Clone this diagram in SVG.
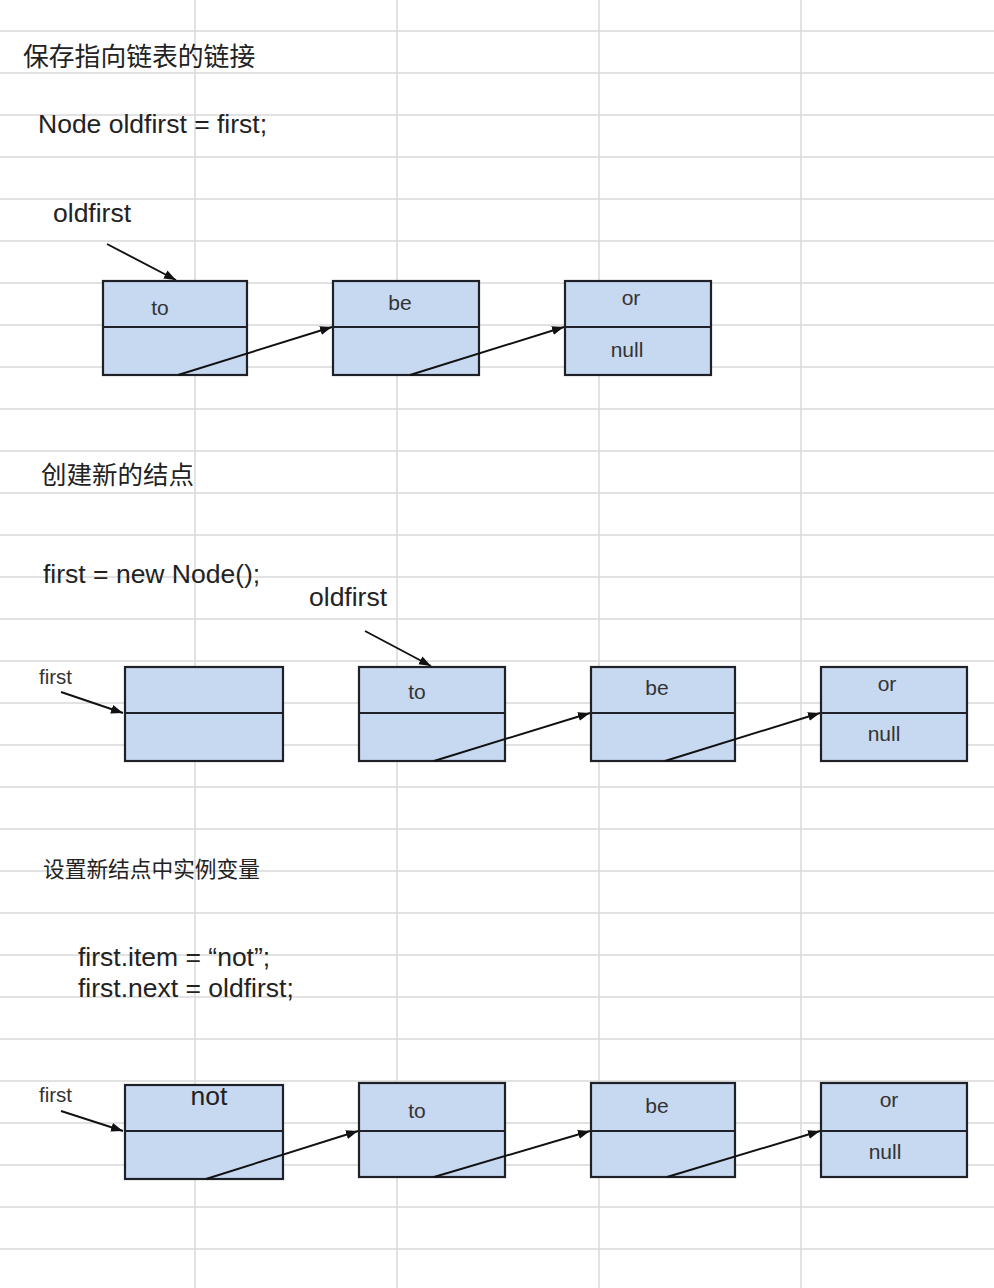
<svg xmlns="http://www.w3.org/2000/svg" width="994" height="1288" viewBox="0 0 994 1288">
<style>
.grid{stroke:#d9d9d9;stroke-width:1.5;fill:none}
.box{fill:#c6d9f0;stroke:#1e2228;stroke-width:2.2}
.div{stroke:#1e2228;stroke-width:2.2}
.conn{stroke:#111;stroke-width:1.9;fill:none;marker-end:url(#ah)}
.lbl{font-family:"Liberation Sans",Arial,sans-serif;font-size:21px;fill:#333;text-anchor:middle}
.code{font-family:"Liberation Sans",Arial,sans-serif;font-size:26.5px;fill:#222}
.small{font-family:"Liberation Sans",Arial,sans-serif;font-size:20.5px;fill:#333}
.cjk{font-family:"Liberation Sans","Noto Sans CJK SC",sans-serif;fill:#222}
</style>
<defs>
<marker id="ah" markerUnits="userSpaceOnUse" markerWidth="13" markerHeight="10" refX="12" refY="4.5" orient="auto">
<path d="M0,0 L12,4.5 L0,9 z" fill="#111"/>
</marker>
</defs>
<rect width="994" height="1288" fill="#ffffff"/>
<g id="grid">
<path class="grid" d="M195 0V1288M397 0V1288M599 0V1288M801 0V1288"/>
<path class="grid" d="M0 31H994M0 73H994M0 115H994M0 157H994M0 199H994M0 241H994M0 283H994M0 325H994M0 367H994M0 409H994M0 451H994M0 493H994M0 535H994M0 577H994M0 619H994M0 661H994M0 703H994M0 745H994M0 787H994M0 829H994M0 871H994M0 913H994M0 955H994M0 997H994M0 1039H994M0 1081H994M0 1123H994M0 1165H994M0 1207H994M0 1249H994"/>
</g>
<g id="texts">
<text class="cjk" x="23" y="66" font-size="25.8">保存指向链表的链接</text>
<text class="code" x="38" y="133">Node oldfirst = first;</text>
<text class="code" x="53" y="222">oldfirst</text>
<text class="cjk" x="41" y="484" font-size="25.5">创建新的结点</text>
<text class="code" x="43" y="583">first = new Node();</text>
<text class="code" x="309" y="606">oldfirst</text>
<text class="small" x="39" y="684">first</text>
<text class="cjk" x="43" y="877" font-size="21.7">设置新结点中实例变量</text>
<text class="code" x="78" y="966">first.item = “not”;</text>
<text class="code" x="78" y="997">first.next = oldfirst;</text>
<text class="small" x="39" y="1102">first</text>
</g>
<g id="r1-to"><rect class="box" x="103" y="281" width="144" height="94"/><line class="div" x1="103" y1="327" x2="247" y2="327"/><text class="lbl" x="160" y="315">to</text></g>
<g id="r1-be"><rect class="box" x="333" y="281" width="146" height="94"/><line class="div" x1="333" y1="327" x2="479" y2="327"/><text class="lbl" x="400" y="310">be</text></g>
<g id="r1-or"><rect class="box" x="565" y="281" width="146" height="94"/><line class="div" x1="565" y1="327" x2="711" y2="327"/><text class="lbl" x="631" y="305">or</text><text class="lbl" x="627" y="357">null</text></g>
<g id="r2-new"><rect class="box" x="125" y="667" width="158" height="94"/><line class="div" x1="125" y1="713" x2="283" y2="713"/></g>
<g id="r2-to"><rect class="box" x="359" y="667" width="146" height="94"/><line class="div" x1="359" y1="713" x2="505" y2="713"/><text class="lbl" x="417" y="699">to</text></g>
<g id="r2-be"><rect class="box" x="591" y="667" width="144" height="94"/><line class="div" x1="591" y1="713" x2="735" y2="713"/><text class="lbl" x="657" y="695">be</text></g>
<g id="r2-or"><rect class="box" x="821" y="667" width="146" height="94"/><line class="div" x1="821" y1="713" x2="967" y2="713"/><text class="lbl" x="887" y="691">or</text><text class="lbl" x="884" y="741">null</text></g>
<g id="r3-not"><rect class="box" x="125" y="1085" width="158" height="94"/><line class="div" x1="125" y1="1131" x2="283" y2="1131"/><text class="code" x="209" y="1105" text-anchor="middle">not</text></g>
<g id="r3-to"><rect class="box" x="359" y="1083" width="146" height="94"/><line class="div" x1="359" y1="1131" x2="505" y2="1131"/><text class="lbl" x="417" y="1118">to</text></g>
<g id="r3-be"><rect class="box" x="591" y="1083" width="144" height="94"/><line class="div" x1="591" y1="1131" x2="735" y2="1131"/><text class="lbl" x="657" y="1113">be</text></g>
<g id="r3-or"><rect class="box" x="821" y="1083" width="146" height="94"/><line class="div" x1="821" y1="1131" x2="967" y2="1131"/><text class="lbl" x="889" y="1107">or</text><text class="lbl" x="885" y="1159">null</text></g>
<g id="connectors">
<line class="conn" x1="107" y1="244" x2="176" y2="280"/>
<line class="conn" x1="178" y1="375" x2="332" y2="327"/>
<line class="conn" x1="410" y1="375" x2="564" y2="327"/>
<line class="conn" x1="61" y1="692" x2="123" y2="713"/>
<line class="conn" x1="365" y1="631" x2="431" y2="666"/>
<line class="conn" x1="434" y1="761" x2="590" y2="713"/>
<line class="conn" x1="665" y1="761" x2="820" y2="713"/>
<line class="conn" x1="61" y1="1111" x2="123" y2="1131"/>
<line class="conn" x1="206" y1="1179" x2="358" y2="1131"/>
<line class="conn" x1="434" y1="1177" x2="590" y2="1131"/>
<line class="conn" x1="667" y1="1177" x2="820" y2="1131"/>
</g>
</svg>
